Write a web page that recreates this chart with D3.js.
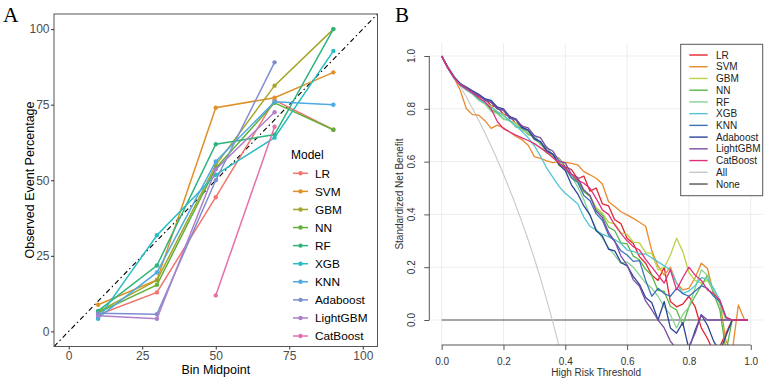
<!DOCTYPE html>
<html lang="en">
<head>
<meta charset="UTF-8">
<title>Calibration and Decision Curves</title>
<script src="https://d3js.org/d3.v7.min.js"></script>
<style>
  body { margin: 0; background: #fff; }
  svg text { font-family: "Liberation Sans", Arial, sans-serif; }
</style>
</head>
<body>
<div id="chart"></div>
<script>
// ---------- data ----------
const models = ["LR", "SVM", "GBM", "NN", "RF", "XGB", "KNN", "Adaboost", "LightGBM", "CatBoost"];

// panel A: calibration (observed % per bin)
const binMidpoints = [10, 30, 50, 70, 90];
const calLR       = [5.5, 12.9, 44.4, 76.5, 66.7];
const calSVM      = [8.8, 17.0, 74.0, 77.3, 85.7];
const calGBM      = [6.5, 16.9, 55.0, 81.3, 100];
const calNN       = [6.2, 15.4, 54.0, 75.6, 66.7];
const calRF       = [6.8, 21.8, 61.9, 65.1, 100];
const calXGB      = [4.2, 31.8, 51.8, 64.1, 92.8];
const calKNN      = [4.5, 19.5, 56.2, 76.0, 75.0];
const calAdaboost = [6.0, 5.7, 50.0, 89.0, null];
const calLightGBM = [5.2, 4.2, 53.6, 72.5, null];
const calCatBoost = [null, null, 11.9, 67.7, null];
const calTicks = [0, 25, 50, 75, 100];

// panel B: standardized net benefit
const thresholds = [0,0.02,0.04,0.06,0.08,0.1,0.12,0.14,0.16,0.18,0.2,0.22,0.24,0.26,0.28,0.3,0.32,0.34,0.36,0.38,0.4,
  0.42,0.44,0.46,0.48,0.5,0.52,0.54,0.56,0.58,0.6,0.62,0.64,0.66,0.68,0.7,0.72,0.74,0.76,0.78,0.8,
  0.82,0.84,0.86,0.88,0.9,0.92,0.94,0.96,0.98,0.99];
const nbLR = [1.0,0.955,0.918,0.892,0.878,0.862,0.846,0.838,0.812,0.806,0.780,0.772,0.745,0.736,0.706,0.697,0.664,0.655,0.622,0.612,0.580,
  0.570,0.535,0.545,0.488,0.500,0.440,0.432,0.380,0.365,0.310,0.290,0.240,0.215,0.170,0.150,0.200,0.070,0.050,0.060,0.090,
  0.050,-0.030,-0.070,-0.120,-0.100,-0.050,0,0,0,0];
const nbSVM = [1.0,0.955,0.918,0.870,0.800,0.778,0.776,0.755,0.726,0.738,0.728,0.712,0.695,0.683,0.662,0.619,0.612,0.603,0.596,0.600,0.597,
  0.593,0.588,0.562,0.550,0.537,0.515,0.448,0.430,0.410,0.398,0.385,0.370,0.355,0.262,0.205,0.170,0.200,0.140,0.114,0.120,
  0.160,0.215,0.195,0.100,0.070,-0.080,-0.120,0.057,0,0];
const nbGBM = [1.0,0.955,0.918,0.890,0.872,0.858,0.842,0.818,0.812,0.786,0.780,0.752,0.748,0.718,0.712,0.684,0.668,0.632,0.622,0.585,0.575,
  0.540,0.525,0.485,0.470,0.425,0.405,0.370,0.365,0.330,0.325,0.295,0.292,0.255,0.252,0.190,0.200,0.245,0.310,0.260,0.180,
  0.150,0.140,0.150,0.110,0.060,0.010,0,0,0,0];
const nbNN = [1.0,0.955,0.917,0.890,0.874,0.858,0.836,0.826,0.796,0.786,0.762,0.756,0.732,0.728,0.702,0.696,0.666,0.656,0.622,0.610,0.572,
  0.545,0.528,0.488,0.468,0.418,0.398,0.352,0.338,0.292,0.288,0.242,0.228,0.192,0.168,0.112,0.108,0.052,0.038,-0.020,0.050,
  0.090,0.130,0.170,0.100,0.040,-0.120,0,0,0,0];
const nbRF = [1.0,0.954,0.916,0.888,0.870,0.855,0.832,0.818,0.790,0.782,0.760,0.756,0.735,0.730,0.706,0.698,0.664,0.654,0.624,0.612,0.568,
  0.545,0.505,0.455,0.395,0.345,0.310,0.275,0.245,0.215,0.220,0.200,0.170,0.140,0.120,0.090,0.050,0.020,-0.030,0.020,0.050,
  0.120,0.190,0.170,0.110,0.060,0.000,0,0,0,0];
const nbXGB = [1.0,0.955,0.916,0.889,0.872,0.856,0.838,0.822,0.806,0.790,0.774,0.756,0.736,0.714,0.690,0.660,0.620,0.575,0.540,0.505,0.480,
  0.460,0.440,0.390,0.355,0.340,0.325,0.315,0.305,0.290,0.265,0.260,0.250,0.250,0.235,0.220,0.205,0.190,0.140,0.100,0.110,
  0.130,0.160,0.155,0.120,0.076,0.010,0,0,0,0];
const nbKNN = [1.0,0.956,0.920,0.895,0.880,0.866,0.852,0.834,0.828,0.800,0.794,0.764,0.758,0.726,0.718,0.684,0.674,0.638,0.628,0.590,0.580,
  0.538,0.522,0.472,0.452,0.402,0.378,0.322,0.298,0.262,0.246,0.222,0.225,0.150,0.090,0.120,0.100,0.090,0.120,0.100,0.090,
  0.110,0.130,0.120,0.090,0.070,0.010,0,0,0,0];
const nbAdaboost = [1.0,0.956,0.921,0.896,0.882,0.868,0.855,0.838,0.832,0.806,0.800,0.770,0.762,0.730,0.720,0.688,0.676,0.642,0.628,0.588,0.566,
  0.512,0.478,0.432,0.398,0.338,0.318,0.268,0.262,0.218,0.205,0.165,0.135,0.085,0.065,0.000,0.070,-0.030,-0.050,-0.010,-0.110,
  -0.040,0.020,-0.020,-0.080,-0.120,-0.060,0,0,0,0];
const nbLightGBM = [1.0,0.955,0.919,0.894,0.880,0.864,0.850,0.832,0.824,0.800,0.796,0.766,0.762,0.734,0.728,0.698,0.690,0.652,0.640,0.602,0.595,
  0.552,0.540,0.492,0.472,0.412,0.388,0.332,0.298,0.242,0.208,0.152,0.128,0.072,0.038,0.000,-0.030,-0.080,-0.110,-0.120,-0.100,
  -0.050,0.020,0.000,0,0,0,0,0,0,0];
const nbCatBoost = [1.0,0.955,0.917,0.890,0.875,0.860,0.842,0.826,0.800,0.752,0.725,0.712,0.700,0.690,0.680,0.668,0.652,0.635,0.615,0.595,0.575,
  0.552,0.530,0.518,0.499,0.460,0.417,0.400,0.360,0.328,0.300,0.278,0.265,0.230,0.200,0.170,0.140,0.190,0.114,0.160,0.200,
  0.170,0.150,0.114,0.100,0.076,0.010,0,0,0,0];
// treat-all reference curve
const allThresholds = [0,0.025,0.05,0.075,0.1,0.125,0.15,0.175,0.2,0.225,0.25,0.275,0.3,0.325,0.35,0.375,0.4];
const nbAll = [1,0.954,0.906,0.855,0.801,0.744,0.684,0.620,0.552,0.479,0.402,0.320,0.232,0.137,0.034,-0.076,-0.195];
const noneThresholds = [0, 0.99];
const nbNone = [0, 0];
const nbTicks = [0, 0.2, 0.4, 0.6, 0.8, 1.0];

const calData = [calLR, calSVM, calGBM, calNN, calRF, calXGB, calKNN, calAdaboost, calLightGBM, calCatBoost];
const nbData = [nbLR, nbSVM, nbGBM, nbNN, nbRF, nbXGB, nbKNN, nbAdaboost, nbLightGBM, nbCatBoost];

const colA = d3.scaleOrdinal().domain(models)
  .range(["#F1756E","#DE9129","#A5A42C","#62B03A","#2DB57D","#26BDC3","#4EAAE3","#7D8ECF","#AE7FCB","#E470AA"]);
const colB = d3.scaleOrdinal().domain(models.concat(["All","None"]))
  .range(["#E3262B","#E98A2D","#B8D442","#58B84A","#86D392","#53C6D1","#3E72B8","#2C4596","#7C4DA3","#E0307D","#C8C8C8","#555555"]);

const svg = d3.select("#chart").append("svg")
  .attr("width", 767).attr("height", 380);

// ---------- panel A ----------
const xA = d3.scaleLinear().domain([-5, 105]).range([54, 377.5]);
const yA = d3.scaleLinear().domain([-5, 105]).range([346.5, 14]);

svg.append("clipPath").attr("id", "clipA").append("rect")
  .attr("x", 54).attr("y", 14).attr("width", 323.5).attr("height", 332.5);

const gA = svg.append("g").attr("clip-path", "url(#clipA)");

gA.append("line")
  .attr("x1", xA(-5)).attr("y1", yA(-5)).attr("x2", xA(105)).attr("y2", yA(105))
  .attr("stroke", "#000").attr("stroke-width", 1.1)
  .attr("stroke-dasharray", "5,3,1.5,3");

const lineA = d3.line()
  .defined(d => d[1] != null)
  .x(d => xA(d[0])).y(d => yA(d[1]));

models.forEach((m, i) => {
  const pts = binMidpoints.map((b, j) => [b, calData[i][j]]);
  gA.append("path").datum(pts)
    .attr("d", lineA).attr("fill", "none")
    .attr("stroke", colA(m)).attr("stroke-width", 1.5);
  gA.selectAll(null).data(pts.filter(d => d[1] != null)).enter()
    .append("circle")
    .attr("cx", d => xA(d[0])).attr("cy", d => yA(d[1]))
    .attr("r", 2.2).attr("fill", colA(m));
});

svg.append("rect")
  .attr("x", 54).attr("y", 14).attr("width", 323.5).attr("height", 332.5)
  .attr("fill", "none").attr("stroke", "#555").attr("stroke-width", 1);

const axAx = svg.append("g").attr("transform", "translate(0,346.5)")
  .call(d3.axisBottom(xA).tickValues(calTicks).tickSize(3).tickPadding(1.5));
const axAy = svg.append("g").attr("transform", "translate(54,0)")
  .call(d3.axisLeft(yA).tickValues(calTicks).tickSize(3).tickPadding(1.5));
[axAx, axAy].forEach(g => {
  g.select(".domain").remove();
  g.selectAll(".tick line").attr("stroke", "#333");
  g.selectAll(".tick text").attr("font-size", 12).attr("fill", "#4d4d4d")
    .attr("font-family", "Liberation Sans, Arial, sans-serif");
});

svg.append("text").attr("x", 215.8).attr("y", 373.5)
  .attr("text-anchor", "middle").attr("font-size", 12.5).text("Bin Midpoint");
svg.append("text").attr("transform", "translate(34,180) rotate(-90)")
  .attr("text-anchor", "middle").attr("font-size", 12.5).text("Observed Event Percentage");

svg.append("text").attr("x", 291).attr("y", 158.5).attr("font-size", 12).text("Model");
const legA = svg.selectAll(".legA").data(models).enter().append("g")
  .attr("transform", (d, i) => `translate(0,${173.3 + i * 18.08})`);
legA.append("line").attr("x1", 293).attr("x2", 308).attr("stroke", d => colA(d)).attr("stroke-width", 1.5);
legA.append("circle").attr("cx", 300.5).attr("r", 2.2).attr("fill", d => colA(d));
legA.append("text").attr("x", 315).attr("dy", "0.36em").attr("font-size", 11.8).text(d => d);

svg.append("text").attr("x", 3).attr("y", 21.7)
  .style("font-family", "Liberation Serif, serif")
  .attr("font-size", 21.5).text("A");

// ---------- panel B ----------
const xB = d3.scaleLinear().domain([-0.04, 1.04]).range([429.3, 763.1]);
const yB = d3.scaleLinear().domain([0, 1]).range([320, 56]);
const topB = 43, botB = 345;

const grid = svg.append("g");
nbTicks.forEach(v => {
  grid.append("line").attr("x1", xB(v)).attr("x2", xB(v)).attr("y1", topB).attr("y2", botB)
    .attr("stroke", "#EDEDED").attr("stroke-width", 1);
  grid.append("line").attr("x1", 429.3).attr("x2", 763.1).attr("y1", yB(v)).attr("y2", yB(v))
    .attr("stroke", "#EDEDED").attr("stroke-width", 1);
});

svg.append("clipPath").attr("id", "clipB").append("rect")
  .attr("x", 429.3).attr("y", topB).attr("width", 333.8).attr("height", botB - topB);
const gB = svg.append("g").attr("clip-path", "url(#clipB)");

const lineB = d3.line().x(d => xB(d[0])).y(d => yB(d[1]));
const curveB = d3.line().curve(d3.curveMonotoneX).x(d => xB(d[0])).y(d => yB(d[1]));

gB.append("path").datum(noneThresholds.map((t, j) => [t, nbNone[j]]))
  .attr("d", lineB).attr("fill", "none").attr("stroke", colB("None")).attr("stroke-width", 1.2);
gB.append("path").datum(allThresholds.map((t, j) => [t, nbAll[j]]))
  .attr("d", curveB).attr("fill", "none")
  .attr("stroke", colB("All")).attr("stroke-width", 1.1);

models.forEach((m, i) => {
  gB.append("path").datum(thresholds.map((t, j) => [t, nbData[i][j]]))
    .attr("d", lineB).attr("fill", "none")
    .attr("stroke", colB(m)).attr("stroke-width", 1.3).attr("stroke-linejoin", "round");
});

// axes
svg.append("line").attr("x1", 429.3).attr("x2", 429.3).attr("y1", yB(1)).attr("y2", yB(0))
  .attr("stroke", "#555").attr("stroke-width", 1);
svg.append("line").attr("x1", xB(0)).attr("x2", xB(1)).attr("y1", botB).attr("y2", botB)
  .attr("stroke", "#555").attr("stroke-width", 1);

const fmt1 = d3.format(".1f");
const axBx = svg.append("g").attr("transform", `translate(0,${botB})`)
  .call(d3.axisBottom(xB).tickValues(nbTicks).tickFormat(fmt1).tickSize(5).tickPadding(8));
const axBy = svg.append("g").attr("transform", "translate(429.3,0)")
  .call(d3.axisLeft(yB).tickValues(nbTicks).tickFormat("").tickSize(5));
[axBx, axBy].forEach(g => {
  g.select(".domain").remove();
  g.selectAll(".tick line").attr("stroke", "#555");
  g.selectAll(".tick text").attr("font-size", 10).attr("fill", "#333")
    .attr("font-family", "Liberation Sans, Arial, sans-serif");
});
// base R style: y labels run parallel to the axis
svg.selectAll(".ylabB").data(nbTicks).enter().append("text")
  .attr("class", "ylabB")
  .attr("transform", d => `translate(414.5,${yB(d)}) rotate(-90)`)
  .attr("text-anchor", "middle")
  .attr("font-size", 10).attr("fill", "#333")
  .text(d => fmt1(d));

svg.append("text").attr("x", 596.2).attr("y", 376)
  .attr("text-anchor", "middle").attr("font-size", 10).attr("fill", "#333").text("High Risk Threshold");
svg.append("text").attr("transform", "translate(403,194) rotate(-90)")
  .attr("text-anchor", "middle").attr("font-size", 10).attr("fill", "#333").text("Standardized Net Benefit");

// legend
const legNames = models.concat(["All", "None"]);
svg.append("rect").attr("x", 680.7).attr("y", 44.3).attr("width", 82).attr("height", 151.4)
  .attr("fill", "#fff").attr("stroke", "#555").attr("stroke-width", 1);
const legB = svg.selectAll(".legB").data(legNames).enter().append("g")
  .attr("transform", (d, i) => `translate(0,${55 + i * 11.73})`);
legB.append("line").attr("x1", 689.3).attr("x2", 707.7)
  .attr("stroke", d => colB(d)).attr("stroke-width", 1.4);
legB.append("text").attr("x", 716).attr("dy", "0.36em").attr("font-size", 10).attr("fill", "#222").text(d => d);

svg.append("text").attr("x", 395).attr("y", 21.7)
  .style("font-family", "Liberation Serif, serif")
  .attr("font-size", 21).text("B");
</script>
</body>
</html>
